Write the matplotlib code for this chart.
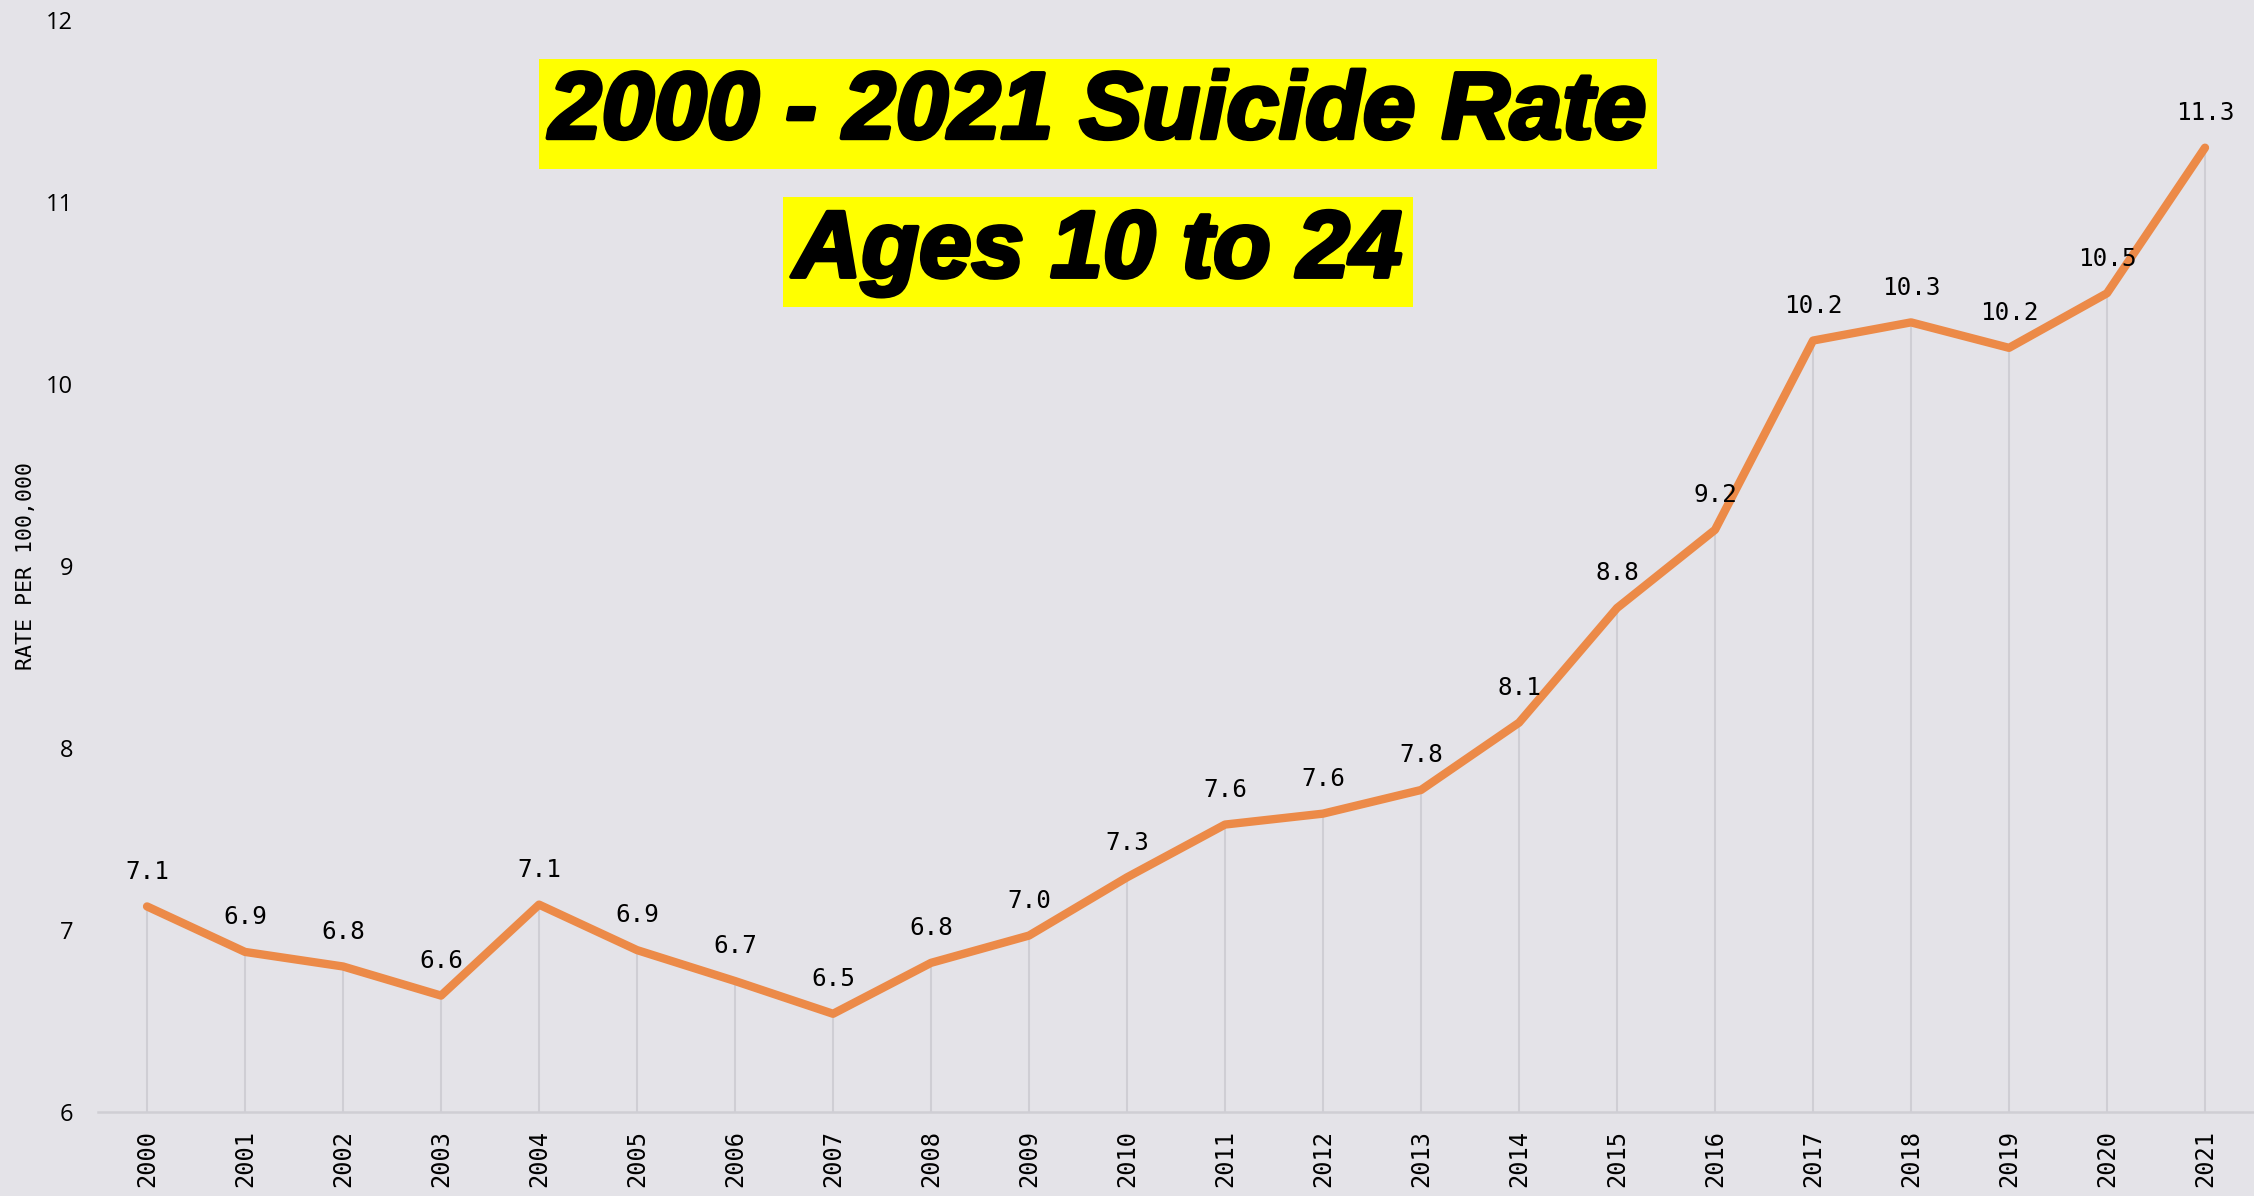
import matplotlib
matplotlib.use('Agg')
import matplotlib.pyplot as plt
import matplotlib.patheffects as pe

# data
years = list(range(2000, 2022))
rates = [7.13, 6.88, 6.80, 6.64, 7.14, 6.89, 6.72, 6.54, 6.82, 6.97, 7.29,
         7.58, 7.64, 7.77, 8.14, 8.77, 9.20, 10.24, 10.34, 10.20, 10.50, 11.30]
y_ticks = [6, 7, 8, 9, 10, 11, 12]
title_lines = ['2000 - 2021 Suicide Rate', 'Ages 10 to 24']
y_label = 'RATE PER 100,000'

BG = '#e4e3e8'
ORANGE = '#ec8a48'
GRID = '#cfced4'
MONO = ['DejaVu Sans Mono']

fig = plt.figure(figsize=(22.54, 11.96), dpi=100, facecolor=BG)
ax = fig.add_axes([0.0435, 0.0702, 0.9565, 0.9128])
ax.set_facecolor(BG)

x = list(range(len(years)))

# drop lines from each point down to the axis
ax.vlines(x, 6, rates, colors=GRID, linewidth=1.5, zorder=1)
ax.plot(x, rates, color=ORANGE, linewidth=6, solid_capstyle='round',
        solid_joinstyle='round', zorder=3)

for xi, v in zip(x, rates):
    ax.annotate('{:.1f}'.format(v), (xi, v), xytext=(0, 25),
                textcoords='offset points', ha='center', va='center',
                fontsize=17.5, family=MONO, color='black', zorder=4)

ax.set_xlim(-0.5, len(years) - 0.5)
ax.set_ylim(6, 12)
ax.set_xticks(x)
ax.set_xticklabels([str(y) for y in years], rotation=90, family=MONO, fontsize=17)
ax.set_yticks(y_ticks)
ax.set_yticklabels([str(t) for t in y_ticks], family=['Open Sans', 'DejaVu Sans'], fontsize=17)
ax.tick_params(axis='x', length=0, pad=13)
ax.tick_params(axis='y', length=0, pad=18)

for side in ['top', 'right', 'left']:
    ax.spines[side].set_visible(False)
ax.spines['bottom'].set_color(GRID)
ax.spines['bottom'].set_linewidth(1.8)

ax.set_ylabel(y_label, family=MONO, fontsize=15.5)
ax.yaxis.set_label_coords(-0.029, 0.5)

# title boxes
for txt, yy in zip(title_lines, [0.905, 0.789]):
    fig.text(0.487, yy, txt, ha='center', va='center', fontsize=68,
             family=['Liberation Sans', 'DejaVu Sans'], weight='bold', style='italic',
             color='black',
             path_effects=[pe.withStroke(linewidth=3, foreground='black')],
             bbox=dict(boxstyle='square,pad=0.11', facecolor='#ffff00', edgecolor='none'))

fig.savefig('out.png', dpi=100, facecolor=BG)
